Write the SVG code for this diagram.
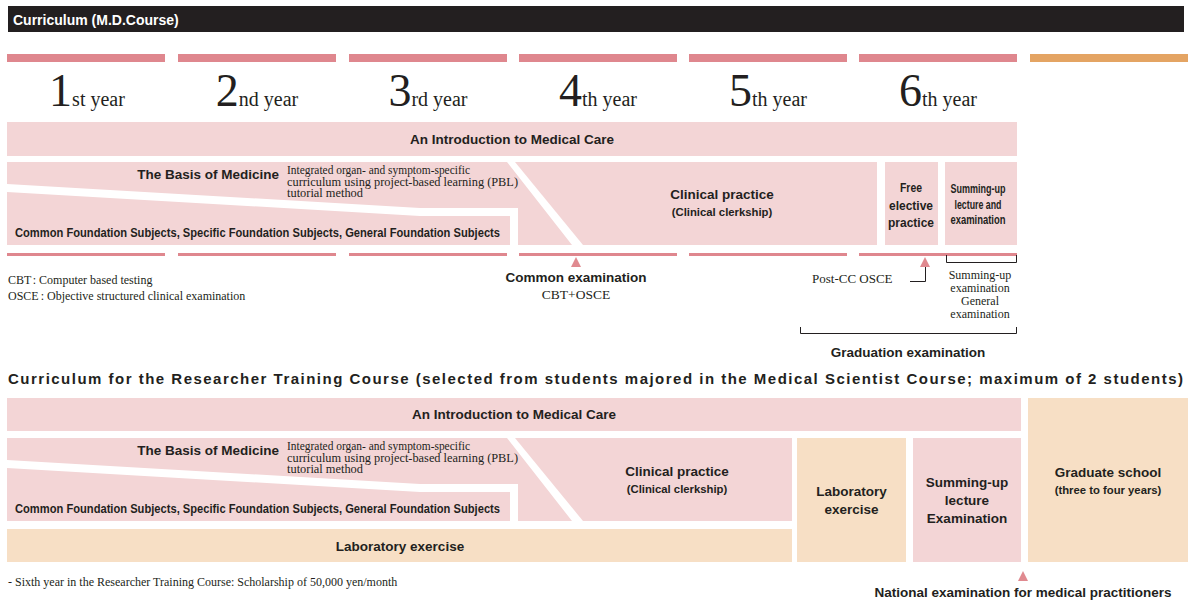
<svg xmlns="http://www.w3.org/2000/svg" width="1192" height="600" viewBox="0 0 1192 600">
<style>
.sb{font-family:"Liberation Sans",Arial,sans-serif;font-weight:bold;fill:#231f20}
.sr{font-family:"Liberation Serif","Noto Sans CJK JP",serif;fill:#231f20}
.pk{fill:#f3d5d6}
.or{fill:#f7dfc5}
.bar{fill:#df878e}
.tri{fill:#e08a90}
.ln{fill:none;stroke:#231f20;stroke-width:1}
.c{text-anchor:middle}
</style>
<rect x="0" y="0" width="1192" height="600" fill="#ffffff"/>
<g id="header">
<rect x="8" y="6" width="1176" height="26" fill="#231f20"/>
<text x="13" y="25" class="sb" font-size="14" style="fill:#ffffff">Curriculum (M.D.Course)</text>
</g>
<g id="years">
<rect class="bar" x="7" y="54" width="158" height="8"/>
<rect class="bar" x="178" y="54" width="158" height="8"/>
<rect class="bar" x="349" y="54" width="158" height="8"/>
<rect class="bar" x="519" y="54" width="158" height="8"/>
<rect class="bar" x="689" y="54" width="158" height="8"/>
<rect class="bar" x="859" y="54" width="158" height="8"/>
<rect x="1030" y="54" width="158" height="8" fill="#e4a463"/>
<text class="sr c" x="87" y="106"><tspan font-size="46">1</tspan><tspan font-size="20">st year</tspan></text>
<text class="sr c" x="257" y="106"><tspan font-size="46">2</tspan><tspan font-size="20">nd year</tspan></text>
<text class="sr c" x="428" y="106"><tspan font-size="46">3</tspan><tspan font-size="20">rd year</tspan></text>
<text class="sr c" x="598" y="106"><tspan font-size="46">4</tspan><tspan font-size="20">th year</tspan></text>
<text class="sr c" x="768" y="106"><tspan font-size="46">5</tspan><tspan font-size="20">th year</tspan></text>
<text class="sr c" x="938" y="106"><tspan font-size="46">6</tspan><tspan font-size="20">th year</tspan></text>
</g>
<g id="md-intro">
<rect class="pk" x="7" y="122" width="1010" height="34"/>
<text class="sb c" x="512" y="144" font-size="13.5">An Introduction to Medical Care</text>
</g>
<g id="md-basis">
<polygon class="pk" points="7,162 507,162 572,245 518,245 518,208 420,208 7,184"/>
<text class="sb" x="279" y="179" font-size="13.5" text-anchor="end">The Basis of Medicine</text>
<text class="sr" x="287" y="174" font-size="11.5" textLength="183" lengthAdjust="spacingAndGlyphs">Integrated organ- and symptom-specific</text>
<text class="sr" x="287" y="185.5" font-size="11.5" textLength="231" lengthAdjust="spacingAndGlyphs">curriculum using project-based learning (PBL)</text>
<text class="sr" x="287" y="197" font-size="11.5" textLength="76" lengthAdjust="spacingAndGlyphs">tutorial method</text>
</g>
<g id="md-foundation">
<polygon class="pk" points="7,192 420,216 510,216 510,245 7,245"/>
<text class="sb" x="15" y="237" font-size="13" textLength="485" lengthAdjust="spacingAndGlyphs">Common Foundation Subjects, Specific Foundation Subjects, General Foundation Subjects</text>
</g>
<g id="md-clinical">
<polygon class="pk" points="515,162 877,162 877,245 583,245"/>
<text class="sb c" x="722" y="199" font-size="13.5">Clinical practice</text>
<text class="sb c" x="722" y="216" font-size="11.3">(Clinical clerkship)</text>
</g>
<g id="md-free">
<rect class="pk" x="885" y="162" width="53" height="83"/>
<text class="sb c" x="911" y="192" font-size="12.5" textLength="22" lengthAdjust="spacingAndGlyphs">Free</text>
<text class="sb c" x="911" y="209.5" font-size="12.5" textLength="44" lengthAdjust="spacingAndGlyphs">elective</text>
<text class="sb c" x="911" y="227" font-size="12.5" textLength="46" lengthAdjust="spacingAndGlyphs">practice</text>
</g>
<g id="md-summing">
<rect class="pk" x="945" y="162" width="72" height="83"/>
<text class="sb c" x="978" y="193" font-size="12.5" textLength="55" lengthAdjust="spacingAndGlyphs">Summing-up</text>
<text class="sb c" x="978" y="208.5" font-size="12.5" textLength="47" lengthAdjust="spacingAndGlyphs">lecture and</text>
<text class="sb c" x="978" y="224" font-size="12.5" textLength="55" lengthAdjust="spacingAndGlyphs">examination</text>
</g>
<g id="md-timeline">
<rect class="bar" x="7" y="253" width="158" height="3"/>
<rect class="bar" x="178" y="253" width="158" height="3"/>
<rect class="bar" x="349" y="253" width="158" height="3"/>
<rect class="bar" x="519" y="253" width="158" height="3"/>
<rect class="bar" x="689" y="253" width="158" height="3"/>
<rect class="bar" x="859" y="253" width="158" height="3"/>
</g>
<g id="legend">
<text class="sr" x="8" y="284" font-size="12">CBT<tspan dx="2">:</tspan><tspan dx="3">Computer based testing</tspan></text>
<text class="sr" x="8" y="300" font-size="12">OSCE<tspan dx="2">:</tspan><tspan dx="3">Objective structured clinical examination</tspan></text>
</g>
<g id="common-exam">
<polygon class="tri" points="576,257 571,267 581,267"/>
<text class="sb c" x="576" y="282" font-size="13.5">Common examination</text>
<text class="sr c" x="576" y="299" font-size="13.5">CBT+OSCE</text>
</g>
<g id="post-cc">
<polygon class="tri" points="925,257 920,267 930,267"/>
<text class="sr" x="812" y="283" font-size="13">Post-CC OSCE</text>
</g>
<g id="summing-exam">
<text class="sr c" x="980" y="279" font-size="12">Summing-up</text>
<text class="sr c" x="980" y="292" font-size="12">examination</text>
<text class="sr c" x="980" y="305" font-size="12">General</text>
<text class="sr c" x="980" y="318" font-size="12">examination</text>
</g>
<g id="graduation">
<text class="sb c" x="908" y="357" font-size="13.5">Graduation examination</text>
</g>
<g id="connectors">
<path class="ln" d="M925.5,267 V281.5 H910"/>
<path class="ln" d="M946.5,255 V262.5 H1016.5 V255"/>
<path class="ln" d="M800.5,327 V333.5 H1016.5 V327"/>
</g>
<g id="rt-title">
<text class="sb" x="8" y="384" font-size="15" textLength="1175" lengthAdjust="spacing">Curriculum for the Researcher Training Course (selected from students majored in the Medical Scientist Course; maximum of 2 students)</text>
</g>
<g id="rt-intro">
<rect class="pk" x="7" y="398" width="1014" height="33"/>
<text class="sb c" x="514" y="419" font-size="13.5">An Introduction to Medical Care</text>
</g>
<g id="rt-basis">
<polygon class="pk" points="7,438 507,438 572,521 518,521 518,484 420,484 7,460"/>
<text class="sb" x="279" y="455" font-size="13.5" text-anchor="end">The Basis of Medicine</text>
<text class="sr" x="287" y="450" font-size="11.5" textLength="183" lengthAdjust="spacingAndGlyphs">Integrated organ- and symptom-specific</text>
<text class="sr" x="287" y="461.5" font-size="11.5" textLength="231" lengthAdjust="spacingAndGlyphs">curriculum using project-based learning (PBL)</text>
<text class="sr" x="287" y="473" font-size="11.5" textLength="76" lengthAdjust="spacingAndGlyphs">tutorial method</text>
</g>
<g id="rt-foundation">
<polygon class="pk" points="7,468 420,492 510,492 510,521 7,521"/>
<text class="sb" x="15" y="513" font-size="13" textLength="485" lengthAdjust="spacingAndGlyphs">Common Foundation Subjects, Specific Foundation Subjects, General Foundation Subjects</text>
</g>
<g id="rt-clinical">
<polygon class="pk" points="515,438 792,438 792,521 583,521"/>
<text class="sb c" x="677" y="476" font-size="13.5">Clinical practice</text>
<text class="sb c" x="677" y="493" font-size="11.3">(Clinical clerkship)</text>
</g>
<g id="rt-lab-bar">
<rect class="or" x="7" y="529" width="785" height="33"/>
<text class="sb c" x="400" y="551" font-size="13.5">Laboratory exercise</text>
</g>
<g id="rt-lab-box">
<rect class="or" x="797" y="438" width="109" height="124"/>
<text class="sb c" x="851.5" y="496" font-size="13.5">Laboratory</text>
<text class="sb c" x="851.5" y="514" font-size="13.5">exercise</text>
</g>
<g id="rt-summing">
<rect class="pk" x="913" y="438" width="108" height="124"/>
<text class="sb c" x="967" y="487" font-size="13.5">Summing-up</text>
<text class="sb c" x="967" y="505" font-size="13.5">lecture</text>
<text class="sb c" x="967" y="523" font-size="13.5">Examination</text>
</g>
<g id="rt-graduate">
<rect class="or" x="1028" y="398" width="160" height="164"/>
<text class="sb c" x="1108" y="477" font-size="13.5">Graduate school</text>
<text class="sb c" x="1108" y="494" font-size="11.3">(three to four years)</text>
</g>
<g id="national-exam">
<polygon class="tri" points="1023,571 1018,581 1028,581"/>
<text class="sb c" x="1023" y="597" font-size="13.5">National examination for medical practitioners</text>
</g>
<g id="footnote">
<text class="sr" x="8" y="586" font-size="12">- Sixth year in the Researcher Training Course: Scholarship of 50,000 yen/month</text>
</g>
</svg>
